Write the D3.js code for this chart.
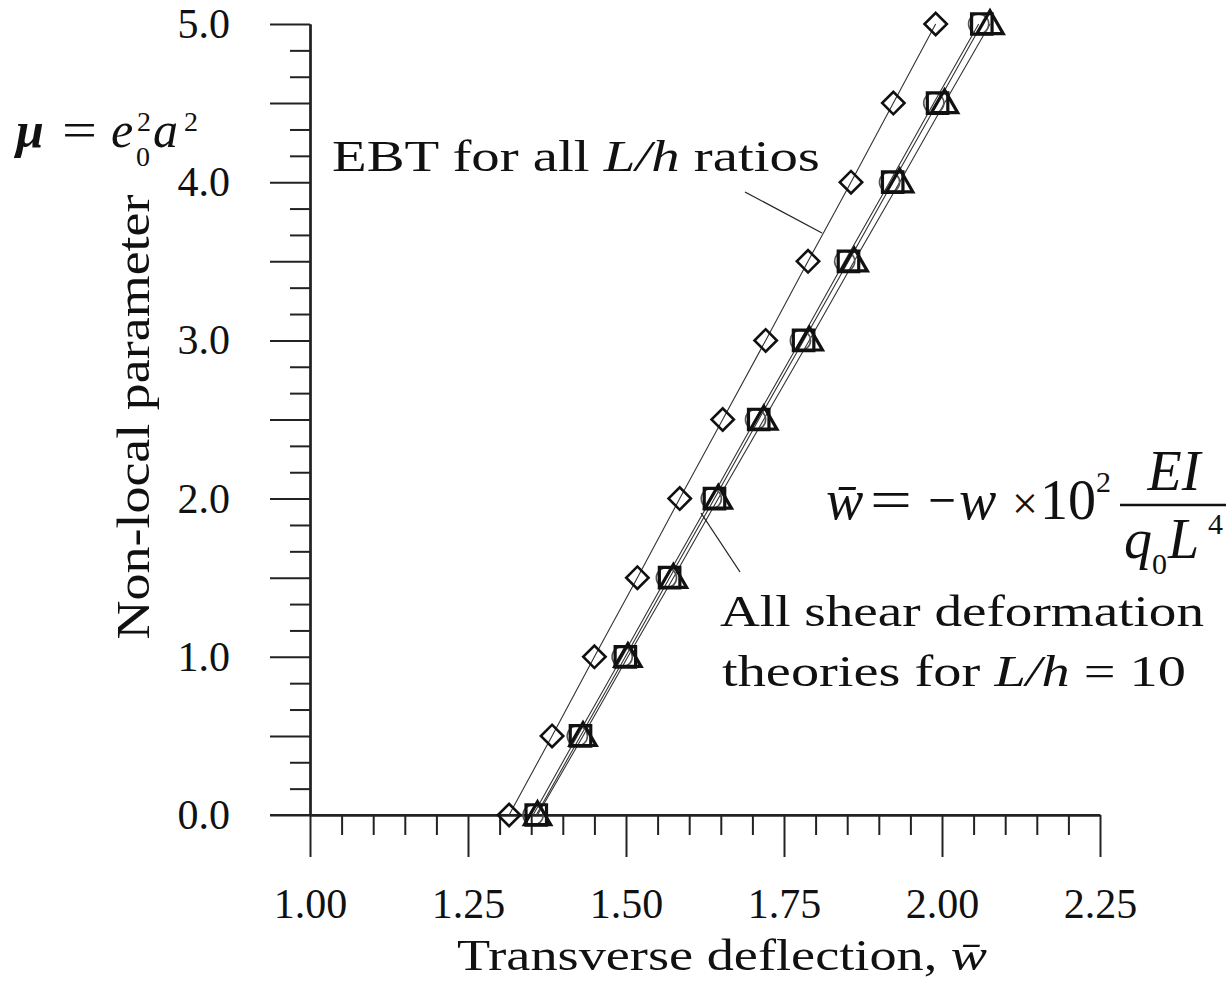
<!DOCTYPE html>
<html>
<head>
<meta charset="utf-8">
<script src="https://cdn.jsdelivr.net/npm/d3@7"></script>
<style>
  body { margin: 0; background: #fff; }
  svg text { font-family: 'Liberation Serif', serif; fill: #111; }
</style>
</head>
<body>
<svg width="1226" height="984"></svg>
<script>
// non-local parameter values (y)
const mu = [0, 0.5, 1.0, 1.5, 2.0, 2.5, 3.0, 3.5, 4.0, 4.5, 5.0]
// transverse deflection for each theory (x)
const ebt = [1.315, 1.383, 1.450, 1.518, 1.585, 1.653, 1.721, 1.788, 1.856, 1.923, 1.990]
const tbt = [1.353, 1.423, 1.494, 1.564, 1.635, 1.705, 1.776, 1.846, 1.917, 1.987, 2.058]
const rbt = [1.358, 1.428, 1.499, 1.569, 1.640, 1.710, 1.781, 1.852, 1.922, 1.993, 2.063]
const lbt = [1.360, 1.432, 1.503, 1.575, 1.646, 1.718, 1.790, 1.861, 1.933, 2.004, 2.076]

const xMajor = [1.0, 1.25, 1.5, 1.75, 2.0, 2.25]
const yLabels = [0, 1, 2, 3, 4, 5]
const yHalf = [0.5, 1.5, 2.5, 3.5, 4.5]

const series = [
  { name: 'EBT', values: ebt, symbol: 'diamond' },
  { name: 'TBT', values: tbt, symbol: 'circle' },
  { name: 'RBT', values: rbt, symbol: 'square' },
  { name: 'LBT', values: lbt, symbol: 'triangle' }
]

let svg = d3.select('svg')

let x = d3.scaleLinear().domain([1.0, 2.25]).range([310, 1100])
let y = d3.scaleLinear().domain([0, 5]).range([815, 24])

let xMinor = d3.range(1.0, 2.2501, 0.05).filter(v => Math.abs(v / 0.25 - Math.round(v / 0.25)) > 1e-6)
let yMinor = d3.range(0, 31).map(k => k / 6).filter((v, k) => k % 3 !== 0)

function styleAxis (g) {
  g.selectAll('path, line').attr('stroke', '#222').attr('stroke-width', 2)
  g.selectAll('text').attr('font-size', 42).attr('font-family', 'Liberation Serif, serif').attr('fill', '#111')
}

// x axis
svg.append('g')
  .attr('transform', 'translate(0,' + y(0) + ')')
  .call(d3.axisBottom(x).tickValues(xMinor).tickSize(20).tickSizeOuter(0).tickFormat(''))
  .call(styleAxis)

svg.append('g')
  .attr('transform', 'translate(0,' + y(0) + ')')
  .call(d3.axisBottom(x).tickValues(xMajor).tickSize(42).tickSizeOuter(0).tickPadding(31).tickFormat(d3.format('.2f')))
  .call(styleAxis)

// y axis
svg.append('g')
  .attr('transform', 'translate(' + x(1.0) + ',0)')
  .call(d3.axisLeft(y).tickValues(yMinor).tickSize(20).tickSizeOuter(0).tickFormat(''))
  .call(styleAxis)

svg.append('g')
  .attr('transform', 'translate(' + x(1.0) + ',0)')
  .call(d3.axisLeft(y).tickValues(yHalf).tickSize(40).tickSizeOuter(0).tickFormat(''))
  .call(styleAxis)

svg.append('g')
  .attr('transform', 'translate(' + x(1.0) + ',0)')
  .call(d3.axisLeft(y).tickValues(yLabels).tickSize(40).tickSizeOuter(0).tickPadding(40).tickFormat(d3.format('.1f')))
  .call(styleAxis)

// extend x axis line to the left end of the 0.0 tick
svg.append('line')
  .attr('x1', x(1.0) - 40).attr('x2', x(2.25))
  .attr('y1', y(0)).attr('y2', y(0))
  .attr('stroke', '#222').attr('stroke-width', 2)

// series lines
let line = d3.line()
  .x(d => x(d[0]))
  .y(d => y(d[1]))

series.forEach(function (s) {
  svg.append('path')
    .datum(s.values.map((v, i) => [v, mu[i]]))
    .attr('d', line)
    .attr('fill', 'none')
    .attr('stroke', '#333')
    .attr('stroke-width', 1.1)
})

// markers
let symbols = {
  diamond: { type: d3.symbolSquare, size: 250, rotate: 45, width: 2.6 },
  circle: { type: d3.symbolCircle, size: 320, rotate: 0, width: 1.6 },
  square: { type: d3.symbolSquare, size: 420, rotate: 0, width: 3.2 },
  triangle: { type: d3.symbolTriangle, size: 300, rotate: 0, width: 3.2 }
}

series.forEach(function (s) {
  let sym = symbols[s.symbol]
  svg.append('g')
    .selectAll('path')
    .data(s.values.map((v, i) => [v, mu[i]]))
    .enter()
    .append('path')
    .attr('d', d3.symbol().type(sym.type).size(sym.size))
    .attr('transform', d => 'translate(' + x(d[0]) + ',' + y(d[1]) + ') rotate(' + sym.rotate + ')' + (s.symbol === 'triangle' ? ' translate(0,2)' : ''))
    .attr('fill', 'none')
    .attr('stroke', s.symbol === 'circle' ? '#555' : '#111')
    .attr('stroke-width', sym.width)
})

function fit (t, len) {
  t.attr('textLength', len).attr('lengthAdjust', 'spacingAndGlyphs')
  return t
}

// axis titles
fit(svg.append('text')
  .attr('transform', 'translate(149,417) rotate(-90)')
  .attr('text-anchor', 'middle')
  .attr('font-size', 46)
  .text('Non-local parameter'), 445)

let xt = svg.append('text')
  .attr('x', 457).attr('y', 970)
  .attr('font-size', 44)
xt.append('tspan').text('Transverse deflection, ')
xt.append('tspan').attr('font-style', 'italic').text('w\u0304')
fit(xt, 530)

// mu = e0^2 a^2
function piece (txt, px, py, size, style) {
  let t = svg.append('text').attr('x', px).attr('y', py).attr('font-size', size).text(txt)
  if (style === 'i') t.attr('font-style', 'italic')
  if (style === 'bi') t.attr('font-style', 'italic').attr('font-weight', 'bold')
  return t
}
piece('\u03bc', 16, 147, 50, 'bi')
fit(piece('=', 62, 147, 50), 35)
piece('e', 111, 147, 50, 'i')
piece('0', 136, 166, 28)
piece('2', 137, 131, 28)
piece('a', 153, 147, 50, 'i')
piece('2', 184, 131, 28)

// EBT annotation
let et = svg.append('text').attr('x', 332).attr('y', 171).attr('font-size', 44)
et.append('tspan').text('EBT for all ')
et.append('tspan').attr('font-style', 'italic').text('L/h')
et.append('tspan').text(' ratios')
fit(et, 488)
svg.append('line')
  .attr('x1', 745).attr('y1', 192).attr('x2', 822).attr('y2', 233)
  .attr('stroke', '#222').attr('stroke-width', 1.3)

// shear annotation
fit(svg.append('text').attr('x', 720).attr('y', 626).attr('font-size', 44).text('All shear deformation'), 484)
let st = svg.append('text').attr('x', 722).attr('y', 686).attr('font-size', 44)
st.append('tspan').text('theories for ')
st.append('tspan').attr('font-style', 'italic').text('L/h')
st.append('tspan').text(' = 10')
fit(st, 464)
svg.append('line')
  .attr('x1', 701).attr('y1', 513).attr('x2', 740).attr('y2', 572)
  .attr('stroke', '#222').attr('stroke-width', 1.3)

// w-bar definition
piece('w\u0304', 826, 519, 56, 'i')
fit(piece('=', 870, 519, 56), 42)
fit(piece('\u2212', 928, 519, 56), 28)
piece('w', 959, 519, 56, 'i')
piece('\u00d7', 1012, 519, 46)
piece('10', 1040, 519, 56)
piece('2', 1096, 492, 30)
piece('EI', 1174, 490, 56, 'i').attr('text-anchor', 'middle')
svg.append('line')
  .attr('x1', 1120).attr('x2', 1226).attr('y1', 505).attr('y2', 505)
  .attr('stroke', '#111').attr('stroke-width', 2.5)
piece('q', 1124, 558, 56, 'i')
piece('0', 1152, 574, 30)
piece('L', 1168, 558, 56, 'i')
piece('4', 1208, 534, 30)
</script>
</body>
</html>
